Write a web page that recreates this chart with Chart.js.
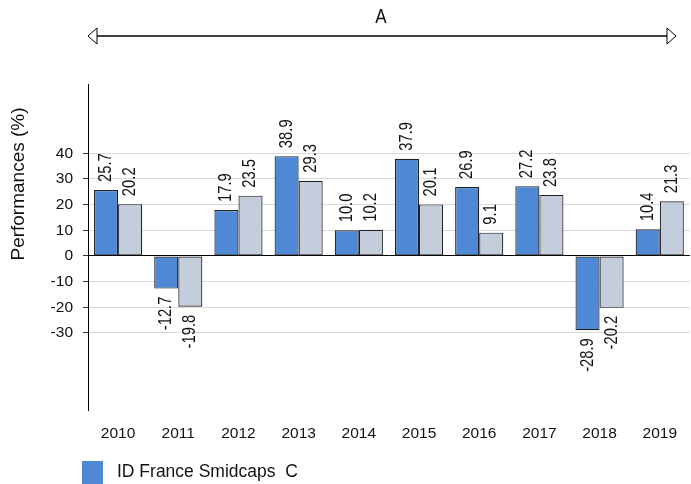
<!DOCTYPE html>
<html>
<head>
<meta charset="utf-8">
<script src="https://cdn.jsdelivr.net/npm/chart.js@4.4.1/dist/chart.umd.min.js"></script>
<style>
    html, body { margin: 0; padding: 0; background: #fff; }
    #wrap { width: 691px; height: 484px; }
</style>
</head>
<body>
<div id="wrap"><canvas id="chart"></canvas></div>
<script>
const years = ['2010', '2011', '2012', '2013', '2014', '2015', '2016', '2017', '2018', '2019'];
const fundValues = [25.7, -12.7, 17.9, 38.9, 10.0, 37.9, 26.9, 27.2, -28.9, 10.4];
const indexValues = [20.2, -19.8, 23.5, 29.3, 10.2, 20.1, 9.1, 23.8, -20.2, 21.3];
const yTicks = [-30, -20, -10, 0, 10, 20, 30, 40];

const font = "'Liberation Sans', Arial, sans-serif";

// value labels, rotated, above positive bars and below negative ones
const barLabels = {
    id: 'barLabels',
    afterDatasetsDraw(chart) {
        const ctx = chart.ctx;
        ctx.save();
        ctx.font = '18px ' + font;
        ctx.fillStyle = '#111';
        ctx.textBaseline = 'middle';
        chart.data.datasets.forEach((ds, i) => {
            chart.getDatasetMeta(i).data.forEach((bar, j) => {
                const v = ds.data[j];
                ctx.save();
                ctx.translate(bar.x, v >= 0 ? bar.y - 8 : bar.y + 8);
                ctx.rotate(-Math.PI / 2);
                ctx.scale(0.82, 1); // narrow look
                ctx.textAlign = v >= 0 ? 'left' : 'right';
                ctx.fillText(v.toFixed(1), 0, 0);
                ctx.restore();
            });
        });
        ctx.restore();
    }
};

// the range arrow on top, the y title and the legend
const extras = {
    id: 'extras',
    afterDraw(chart) {
        const ctx = chart.ctx;
        ctx.save();

        // arrow
        const y = 36, x1 = 88, x2 = 676;
        ctx.strokeStyle = '#000';
        ctx.lineWidth = 1.5;
        ctx.beginPath();
        ctx.moveTo(x1 + 8, y);
        ctx.lineTo(x2 - 8, y);
        ctx.stroke();
        ctx.lineWidth = 1;
        ctx.fillStyle = '#fff';
        ctx.beginPath();
        ctx.moveTo(x1, y);
        ctx.lineTo(x1 + 9, y - 8);
        ctx.lineTo(x1 + 9, y + 8);
        ctx.closePath();
        ctx.fill();
        ctx.stroke();
        ctx.beginPath();
        ctx.moveTo(x2, y);
        ctx.lineTo(x2 - 9, y - 8);
        ctx.lineTo(x2 - 9, y + 8);
        ctx.closePath();
        ctx.fill();
        ctx.stroke();

        ctx.fillStyle = '#111';
        ctx.textAlign = 'center';
        ctx.textBaseline = 'middle';
        ctx.save();
        ctx.translate(381, 17);
        ctx.scale(0.85, 1);
        ctx.font = '20px ' + font;
        ctx.fillText('A', 0, 0);
        ctx.restore();

        // y title
        ctx.save();
        ctx.translate(19, 184);
        ctx.rotate(-Math.PI / 2);
        ctx.font = '19px ' + font;
        ctx.fillText('Performances (%)', 0, 0);
        ctx.restore();

        // legend, first series only
        const ds = chart.data.datasets[0];
        ctx.fillStyle = ds.backgroundColor;
        ctx.fillRect(82, 461, 21, 23);
        ctx.fillStyle = '#111';
        ctx.textAlign = 'left';
        ctx.font = '17.5px ' + font;
        ctx.fillText(ds.label, 117, 472);

        ctx.restore();
    }
};

new Chart(document.getElementById('chart'), {
    type: 'bar',
    data: {
        labels: years,
        datasets: [
            {
                label: 'ID France Smidcaps  C',
                data: fundValues,
                backgroundColor: '#4F88D4',
                borderColor: '#222',
                borderWidth: 1.2,
                borderSkipped: false,
                categoryPercentage: 0.8,
                barPercentage: 1,
            },
            {
                label: 'Index',
                data: indexValues,
                backgroundColor: '#C4CDDB',
                borderColor: '#222',
                borderWidth: 1.2,
                borderSkipped: false,
                categoryPercentage: 0.8,
                barPercentage: 1,
            },
        ],
    },
    options: {
        responsive: true,
        maintainAspectRatio: false,
        animation: false,
        layout: { padding: { top: 84, right: 0, bottom: 0, left: 0 } },
        plugins: {
            legend: { display: false },
            tooltip: { enabled: false },
        },
        scales: {
            x: {
                grid: { display: false, drawTicks: false },
                border: { display: false },
                ticks: {
                    color: '#111',
                    font: { family: font, size: 15.5 },
                    padding: 14,
                    maxRotation: 0,
                },
                afterFit: scale => { scale.height = 74; },
            },
            y: {
                min: -60,
                max: 67,
                afterBuildTicks: scale => {
                    scale.ticks = yTicks.map(v => ({ value: v }));
                },
                grid: {
                    color: c => (c.tick && c.tick.value === 0 ? '#000' : '#d9d9d9'),
                    tickColor: '#333',
                    tickLength: 5,
                },
                border: { display: true, color: '#000', width: 1 },
                ticks: {
                    color: '#111',
                    font: { family: font, size: 15.5 },
                    padding: 10,
                },
                afterFit: scale => { scale.width = 88; },
            },
        },
    },
    plugins: [barLabels, extras],
});
</script>
</body>
</html>
